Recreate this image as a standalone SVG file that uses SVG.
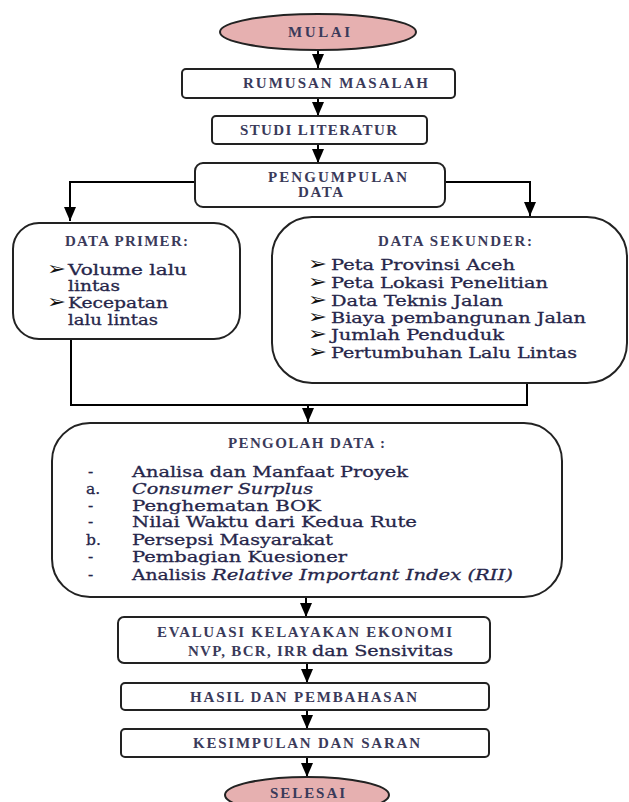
<svg xmlns="http://www.w3.org/2000/svg" width="629" height="802" viewBox="0 0 629 802">
<defs>
<marker id="ah" markerUnits="userSpaceOnUse" markerWidth="16" markerHeight="12" refX="14" refY="6" orient="auto">
<path d="M0,0 L14,6 L0,12 Z" fill="#000"/>
</marker>
<style>
.box{fill:#fff;stroke:#222;stroke-width:2}
.oval{fill:#e6b0b0;stroke:#222;stroke-width:2}
.hd{font-family:"Liberation Serif",serif;font-size:15px;font-weight:bold;fill:#3a3a5a}
.it{font-family:"DejaVu Serif",serif;font-size:15.5px;fill:#26264a;stroke:#26264a;stroke-width:0.3}
.bl{font-family:"DejaVu Sans",sans-serif;font-size:19px;fill:#111}
.conn{fill:none;stroke:#000;stroke-width:2}
</style>
</defs>
<rect width="629" height="802" fill="#fff"/>
<g id="connectors">
<path class="conn" d="M318,50 V68" marker-end="url(#ah)"/>
<path class="conn" d="M318,98 V116" marker-end="url(#ah)"/>
<path class="conn" d="M318,144 V163" marker-end="url(#ah)"/>
<path class="conn" d="M195,182 H70 V221" marker-end="url(#ah)"/>
<path class="conn" d="M445,182 H530 V216" marker-end="url(#ah)"/>
<path class="conn" d="M71,339 V405 H527 V383"/>
<path class="conn" d="M308,405 V422" marker-end="url(#ah)"/>
<path class="conn" d="M306,597 V617" marker-end="url(#ah)"/>
<path class="conn" d="M307,663 V683" marker-end="url(#ah)"/>
<path class="conn" d="M307,710 V729" marker-end="url(#ah)"/>
<path class="conn" d="M307,757 V777" marker-end="url(#ah)"/>
</g>
<g id="mulai">
<ellipse class="oval" cx="318" cy="32" rx="98" ry="18"/>
<text class="hd" x="288" y="37" textLength="62" lengthAdjust="spacing">MULAI</text>
</g>
<g id="rumusan">
<rect class="box" x="182" y="69" width="273" height="29" rx="4"/>
<text class="hd" x="243" y="88" textLength="185" lengthAdjust="spacing">RUMUSAN MASALAH</text>
</g>
<g id="studi">
<rect class="box" x="212" y="116" width="215" height="28" rx="4"/>
<text class="hd" x="240" y="135" textLength="157" lengthAdjust="spacing">STUDI LITERATUR</text>
</g>
<g id="pengumpulan">
<rect class="box" x="195" y="163" width="250" height="44" rx="8"/>
<text class="hd" x="268" y="182" textLength="139" lengthAdjust="spacing">PENGUMPULAN</text>
<text class="hd" x="298" y="197" textLength="45" lengthAdjust="spacing">DATA</text>
</g>
<g id="data-primer">
<rect class="box" x="13" y="223" width="227" height="116" rx="26"/>
<text class="hd" x="65" y="246" textLength="123" lengthAdjust="spacing">DATA PRIMER:</text>
<text class="bl" x="47" y="275" textLength="19" lengthAdjust="spacingAndGlyphs">➢</text>
<text class="it" x="68" y="275" textLength="119" lengthAdjust="spacingAndGlyphs">Volume lalu</text>
<text class="it" x="68" y="291" textLength="52" lengthAdjust="spacingAndGlyphs">lintas</text>
<text class="bl" x="47" y="308" textLength="19" lengthAdjust="spacingAndGlyphs">➢</text>
<text class="it" x="68" y="308" textLength="100" lengthAdjust="spacingAndGlyphs">Kecepatan</text>
<text class="it" x="68" y="325" textLength="90" lengthAdjust="spacingAndGlyphs">lalu lintas</text>
</g>
<g id="data-sekunder">
<rect class="box" x="272" y="217" width="355" height="166" rx="40"/>
<text class="hd" x="378" y="246" textLength="154" lengthAdjust="spacing">DATA SEKUNDER:</text>
<text class="bl" x="308" y="270" textLength="19" lengthAdjust="spacingAndGlyphs">➢</text>
<text class="it" x="331" y="270" textLength="184" lengthAdjust="spacingAndGlyphs">Peta Provinsi Aceh</text>
<text class="bl" x="308" y="288" textLength="19" lengthAdjust="spacingAndGlyphs">➢</text>
<text class="it" x="331" y="288" textLength="217" lengthAdjust="spacingAndGlyphs">Peta Lokasi Penelitian</text>
<text class="bl" x="308" y="306" textLength="19" lengthAdjust="spacingAndGlyphs">➢</text>
<text class="it" x="331" y="306" textLength="172" lengthAdjust="spacingAndGlyphs">Data Teknis Jalan</text>
<text class="bl" x="308" y="323" textLength="19" lengthAdjust="spacingAndGlyphs">➢</text>
<text class="it" x="331" y="323" textLength="255" lengthAdjust="spacingAndGlyphs">Biaya pembangunan Jalan</text>
<text class="bl" x="308" y="340" textLength="19" lengthAdjust="spacingAndGlyphs">➢</text>
<text class="it" x="331" y="340" textLength="173" lengthAdjust="spacingAndGlyphs">Jumlah Penduduk</text>
<text class="bl" x="308" y="358" textLength="19" lengthAdjust="spacingAndGlyphs">➢</text>
<text class="it" x="331" y="358" textLength="246" lengthAdjust="spacingAndGlyphs">Pertumbuhan Lalu Lintas</text>
</g>
<g id="pengolah-data">
<rect class="box" x="52" y="423" width="510" height="174" rx="38"/>
<text class="hd" x="228" y="448" textLength="157" lengthAdjust="spacing">PENGOLAH DATA :</text>
<text class="it" x="88" y="477">-</text>
<text class="it" x="132" y="477" textLength="276" lengthAdjust="spacingAndGlyphs">Analisa dan Manfaat Proyek</text>
<text class="it" x="86" y="494">a.</text>
<text class="it" x="132" y="494" font-style="italic" textLength="181" lengthAdjust="spacingAndGlyphs">Consumer Surplus</text>
<text class="it" x="88" y="511">-</text>
<text class="it" x="132" y="511" textLength="189" lengthAdjust="spacingAndGlyphs">Penghematan BOK</text>
<text class="it" x="88" y="527">-</text>
<text class="it" x="132" y="527" textLength="285" lengthAdjust="spacingAndGlyphs">Nilai Waktu dari Kedua Rute</text>
<text class="it" x="86" y="545">b.</text>
<text class="it" x="132" y="545" textLength="201" lengthAdjust="spacingAndGlyphs">Persepsi Masyarakat</text>
<text class="it" x="88" y="562">-</text>
<text class="it" x="132" y="562" textLength="215" lengthAdjust="spacingAndGlyphs">Pembagian Kuesioner</text>
<text class="it" x="88" y="580">-</text>
<text class="it" x="132" y="580" textLength="74" lengthAdjust="spacingAndGlyphs">Analisis</text>
<text class="it" x="212" y="580" font-style="italic" textLength="301" lengthAdjust="spacingAndGlyphs">Relative Important Index (RII)</text>
</g>
<g id="evaluasi">
<rect class="box" x="118" y="617" width="372" height="46" rx="6"/>
<text class="hd" x="157" y="637" textLength="295" lengthAdjust="spacing">EVALUASI KELAYAKAN EKONOMI</text>
<text class="hd" x="188" y="656" textLength="119" lengthAdjust="spacing">NVP, BCR, IRR</text>
<text class="it" x="312" y="656" textLength="141" lengthAdjust="spacingAndGlyphs">dan Sensivitas</text>
</g>
<g id="hasil">
<rect class="box" x="121" y="683" width="368" height="27" rx="4"/>
<text class="hd" x="190" y="702" textLength="227" lengthAdjust="spacing">HASIL DAN PEMBAHASAN</text>
</g>
<g id="kesimpulan">
<rect class="box" x="121" y="729" width="368" height="28" rx="4"/>
<text class="hd" x="193" y="748" textLength="227" lengthAdjust="spacing">KESIMPULAN DAN SARAN</text>
</g>
<g id="selesai">
<ellipse class="oval" cx="307" cy="795" rx="82" ry="18"/>
<text class="hd" x="270" y="798" textLength="75" lengthAdjust="spacing">SELESAI</text>
</g>
</svg>
